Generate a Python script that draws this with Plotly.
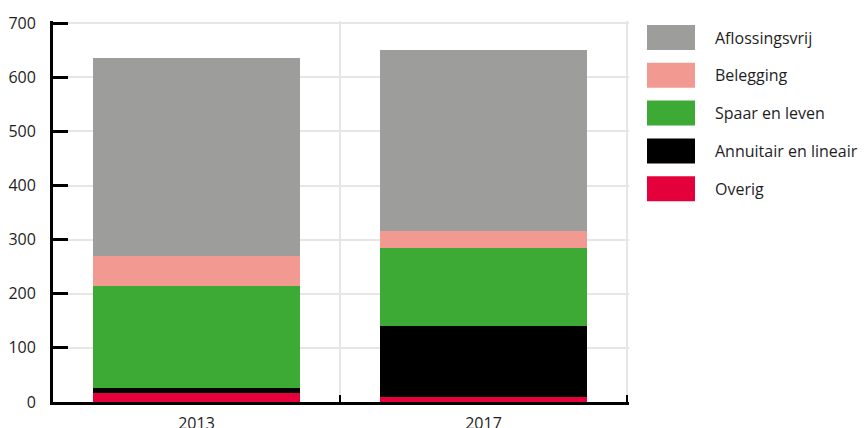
import plotly.graph_objects as go

# ---- data ----
years = ["2013", "2017"]
series_names = ["Overig", "Annuitair en lineair", "Spaar en leven", "Belegging", "Aflossingsvrij"]
overig = [16, 10]
annuitair = [9, 130]
spaar = [190, 145]
belegging = [55, 31]
aflossingsvrij = [365, 334]
series_values = [overig, annuitair, spaar, belegging, aflossingsvrij]
series_colors = ["#e4003a", "#000000", "#3daa35", "#f29a91", "#9d9d9c"]
y_ticks = [0, 100, 200, 300, 400, 500, 600, 700]

# page has an 8px body margin; target plot box in screen px: x from 53, bottom at 402
OFF = 8
W, H = 866, 428
X_RANGE = [-0.5, 1.507]
Y_RANGE = [0, 704]
px_per_cat = 287.0
px_per_unit = 379.0 / 700.0
plot_w = round((X_RANGE[1] - X_RANGE[0]) * px_per_cat)
plot_h = round((Y_RANGE[1] - Y_RANGE[0]) * px_per_unit)
L = 53 - OFF
T = 402 - plot_h - OFF
R = W - L - plot_w
B = H - T - plot_h
FS = 16

fig = go.Figure()
for name, vals, col in zip(series_names, series_values, series_colors):
    fig.add_trace(go.Bar(x=years, y=vals, name=name, marker=dict(color=col, line=dict(width=0)),
                         showlegend=False))

# custom legend (large swatches), top item = last series; coords in screen px
def px_x(p):
    return (p - 53) / plot_w

def px_y(p):
    return (402 - p) / plot_h

shapes = []
annotations = []
row_top = 25
row_step = 37.8
for i, (name, col) in enumerate(zip(series_names[::-1], series_colors[::-1])):
    y0 = row_top + i * row_step
    shapes.append(dict(type="rect", xref="paper", yref="paper",
                       x0=px_x(647), x1=px_x(695), y0=px_y(y0 + 25), y1=px_y(y0),
                       fillcolor=col, line=dict(width=0), layer="above"))
    annotations.append(dict(xref="paper", yref="paper", x=px_x(713), y=px_y(y0 + 12.5),
                            text=name, showarrow=False, xanchor="left", yanchor="middle",
                            font=dict(size=FS, color="#1e1e1e", family="Open Sans")))

fig.update_layout(
    width=W, height=H,
    margin=dict(l=L, r=R, t=T, b=B, pad=0),
    barmode="stack",
    bargap=0.28,
    plot_bgcolor="white", paper_bgcolor="white",
    font=dict(family="Open Sans", size=FS, color="#1e1e1e"),
    shapes=shapes, annotations=annotations,
    xaxis=dict(type="category", range=X_RANGE, tickson="boundaries",
               ticks="inside", ticklen=7, tickwidth=2, tickcolor="black",
               showgrid=True, gridcolor="#e6e6e6", gridwidth=2,
               showline=True, linecolor="black", linewidth=3,
               automargin=False, ticklabelstandoff=5),
    yaxis=dict(range=Y_RANGE, tickvals=y_ticks,
               ticktext=[f"{v}\u00a0\u00a0\u2009" for v in y_ticks],
               ticks="inside", ticklen=15, tickwidth=3, tickcolor="black",
               showgrid=True, gridcolor="#e6e6e6", gridwidth=2,
               showline=True, linecolor="black", linewidth=3,
               zeroline=False, automargin=False),
)

fig.write_html("out.html")
